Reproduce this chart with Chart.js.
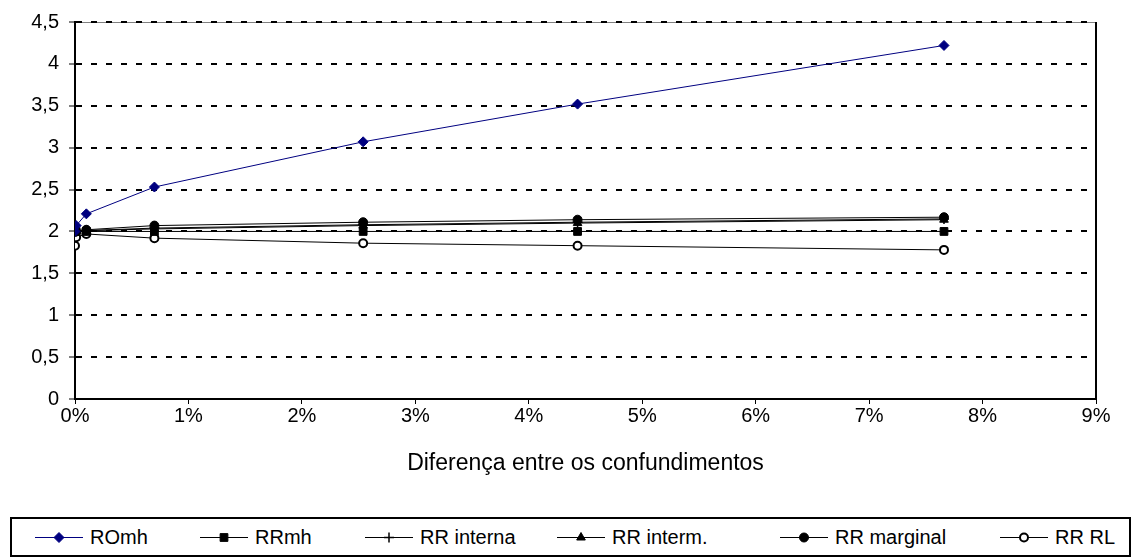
<!DOCTYPE html>
<html>
<head>
<meta charset="utf-8">
<script src="https://cdn.jsdelivr.net/npm/chart.js@4/dist/chart.umd.min.js"></script>
<style>
  html, body { margin: 0; padding: 0; background: #fff; }
  body { width: 1138px; height: 559px; position: relative; overflow: hidden; font-family: "Liberation Sans", Arial, sans-serif; }
  #chartWrap { position: absolute; left: 0; top: 0; width: 1138px; height: 480px; }
  #legend {
    position: absolute; left: 10px; top: 517px; width: 1117px; height: 36px;
    border: 2px solid #000;
  }
  .legItem { position: absolute; top: 0; height: 36px; display: flex; align-items: center; font-size: 20px; color: #000; white-space: nowrap; }
  .legItem canvas { margin-right: 7px; }
</style>
</head>
<body>
<div id="chartWrap"><canvas id="mainChart"></canvas></div>
<div id="legend"></div>
<script>
// x values in percent
const diffValues = [0, 0.01, 0.1, 0.7, 2.54, 4.43, 7.66];

const seriesNames = ["ROmh", "RRmh", "RR interna", "RR interm.", "RR marginal", "RR RL"];
const romh = [2.0, 2.07, 2.21, 2.53, 3.07, 3.52, 4.22];
const rrmh = [2.0, 2.0, 2.0, 2.0, 2.0, 2.0, 2.0];
const rrInterna = [2.0, 2.0, 2.01, 2.04, 2.08, 2.11, 2.15];
const rrInterm = [2.0, 2.0, 2.01, 2.03, 2.07, 2.10, 2.14];
const rrMarginal = [2.0, 2.0, 2.02, 2.07, 2.11, 2.14, 2.17];
const rrRL = [1.83, 1.93, 1.97, 1.92, 1.86, 1.83, 1.78];

const xTicks = [0, 1, 2, 3, 4, 5, 6, 7, 8, 9];
const yTicks = [0, 0.5, 1, 1.5, 2, 2.5, 3, 3.5, 4, 4.5];

const FONT = "'Liberation Sans', Arial, sans-serif";

// build {x, y} points from the x array and one series
function toPoints(values) {
  return diffValues.map((x, i) => ({ x: x, y: values[i] }));
}

const styles = [
  { color: "#000080", point: "rectRot", radius: 5, fill: "#000080", bw: 1 },
  { color: "#000000", point: "rect", radius: 5.5, fill: "#000000", bw: 1 },
  { color: "#000000", point: "cross", radius: 5, fill: "#000000", bw: 1.5 },
  { color: "#000000", point: "triangle", radius: 5, fill: "#000000", bw: 1 },
  { color: "#000000", point: "circle", radius: 4.5, fill: "#000000", bw: 1 },
  { color: "#000000", point: "circle", radius: 4, fill: "#ffffff", bw: 2 },
];
const seriesData = [romh, rrmh, rrInterna, rrInterm, rrMarginal, rrRL];

const datasets = seriesNames.map((name, i) => ({
  label: name,
  data: toPoints(seriesData[i]),
  showLine: true,
  borderColor: styles[i].color,
  borderWidth: 1,
  pointStyle: styles[i].point,
  pointRadius: styles[i].radius,
  pointBackgroundColor: styles[i].fill,
  pointBorderColor: styles[i].color,
  pointBorderWidth: styles[i].bw,
  tension: 0,
}));

// plot frame: grey top, black right
const framePlugin = {
  id: "frame",
  beforeDraw(chart) {
    const { ctx, chartArea } = chart;
    ctx.save();
    ctx.strokeStyle = "#808080";
    ctx.lineWidth = 1;
    ctx.beginPath();
    ctx.moveTo(chartArea.left, chartArea.top + 0.5);
    ctx.lineTo(chartArea.right, chartArea.top + 0.5);
    ctx.stroke();
    ctx.strokeStyle = "#000";
    ctx.lineWidth = 2;
    ctx.beginPath();
    ctx.moveTo(chartArea.right, chartArea.top);
    ctx.lineTo(chartArea.right, chartArea.bottom);
    ctx.stroke();
    ctx.restore();
  },
};

const ctx = document.getElementById("mainChart").getContext("2d");
const mainChart = new Chart(ctx, {
  type: "scatter",
  data: { datasets: datasets },
  options: {
    responsive: true,
    maintainAspectRatio: false,
    animation: false,
    layout: { padding: { top: 19, right: 42, left: 0, bottom: 0 } },
    plugins: { legend: { display: false }, tooltip: { enabled: false } },
    scales: {
      x: {
        type: "linear",
        min: 0,
        max: 9,
        afterBuildTicks: (scale) => { scale.ticks = xTicks.map((v) => ({ value: v })); },
        afterFit: (scale) => { scale.height = 81; },
        ticks: {
          color: "#000",
          font: { family: FONT, size: 20 },
          padding: 0,
          callback: (v) => v + "%",
        },
        grid: { drawOnChartArea: false, drawTicks: true, tickLength: 5, color: "#000", lineWidth: 1 },
        border: { display: true, color: "#000", width: 2 },
        title: {
          display: true,
          text: "Diferença entre os confundimentos",
          color: "#000",
          font: { family: FONT, size: 23 },
          padding: { top: 0, bottom: 3 },
        },
      },
      y: {
        min: 0,
        max: 4.5,
        afterBuildTicks: (scale) => { scale.ticks = yTicks.map((v) => ({ value: v })); },
        afterFit: (scale) => { scale.width = 75; },
        ticks: {
          color: "#000",
          font: { family: FONT, size: 20 },
          padding: 10,
          callback: (v) => String(v).replace(".", ","),
        },
        grid: {
          color: (c) => (c.tick && c.tick.value === 0 ? "rgba(0,0,0,0)" : "#000"),
          lineWidth: 2,
          drawTicks: true,
          tickLength: 6,
          tickColor: "#000",
          tickWidth: 1,
        },
        border: { display: true, color: "#000", width: 2, dash: [6, 9] },
      },
    },
  },
  plugins: [framePlugin],
});

// html legend with line + marker icons, items placed like the original
function createLegend() {
  const legendEl = document.getElementById("legend");
  const itemLeft = [23, 188, 353, 545, 768, 988];
  seriesNames.forEach((name, i) => {
    const item = document.createElement("div");
    item.classList.add("legItem");
    item.style.left = itemLeft[i] + "px";
    const icon = document.createElement("canvas");
    icon.width = 48;
    icon.height = 20;
    const ic = icon.getContext("2d");
    ic.strokeStyle = styles[i].color;
    ic.lineWidth = 1;
    ic.beginPath();
    ic.moveTo(0, 10.5);
    ic.lineTo(48, 10.5);
    ic.stroke();
    ic.fillStyle = styles[i].fill;
    ic.strokeStyle = styles[i].color;
    ic.lineWidth = styles[i].bw;
    Chart.helpers.drawPoint(ic, { pointStyle: styles[i].point, radius: styles[i].radius, rotation: 0, borderWidth: styles[i].bw }, 24, 10.5);
    const label = document.createElement("span");
    label.textContent = name;
    item.append(icon, label);
    legendEl.appendChild(item);
  });
}
createLegend();
</script>
</body>
</html>
